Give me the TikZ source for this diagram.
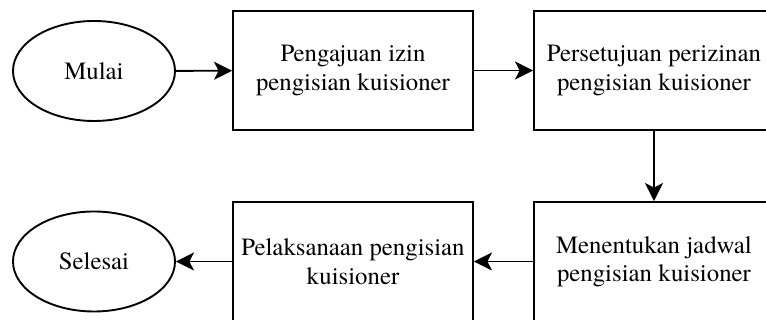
\documentclass[tikz,border=0pt]{standalone}
\usepackage{fontspec}
\setmainfont{TeX Gyre Termes}
\usetikzlibrary{shapes.geometric,arrows.meta}
\begin{document}
\begin{tikzpicture}[x=1pt,y=1pt,
  every node/.style={font=\fontsize{24.8}{28.5}\selectfont, align=center, inner sep=0pt},
  stepbox/.style={draw, line width=1.9pt, minimum width=240pt, minimum height=119pt},
  terminal/.style={draw, ellipse, line width=1.9pt, minimum width=162pt, minimum height=100pt},
  flow/.style={line width=1.9pt, -{Stealth[length=18pt,width=18pt,inset=4.5pt]}}]
\useasboundingbox (0,0) rectangle (766,320);
% top row
\node[terminal] (start) at (94,249) {Mulai};
\node[stepbox] (izin) at (353,249.5) {Pengajuan izin\\pengisian kuisioner};
\node[stepbox] (setuju) at (654,249.5) {Persetujuan perizinan\\pengisian kuisioner};
% bottom row
\node[stepbox] (jadwal) at (654,58.5) {Menentukan jadwal\\pengisian kuisioner};
\node[stepbox] (laksana) at (353,58.5) {Pelaksanaan pengisian\\kuisioner};
\node[terminal] (end) at (94,58.5) {Selesai};
% connectors
\draw[flow] (start) -- (izin);
\draw[flow] (izin) -- (setuju);
\draw[flow] (setuju) -- (jadwal);
\draw[flow] (jadwal) -- (laksana);
\draw[flow] (laksana) -- (end);
\end{tikzpicture}
\end{document}
